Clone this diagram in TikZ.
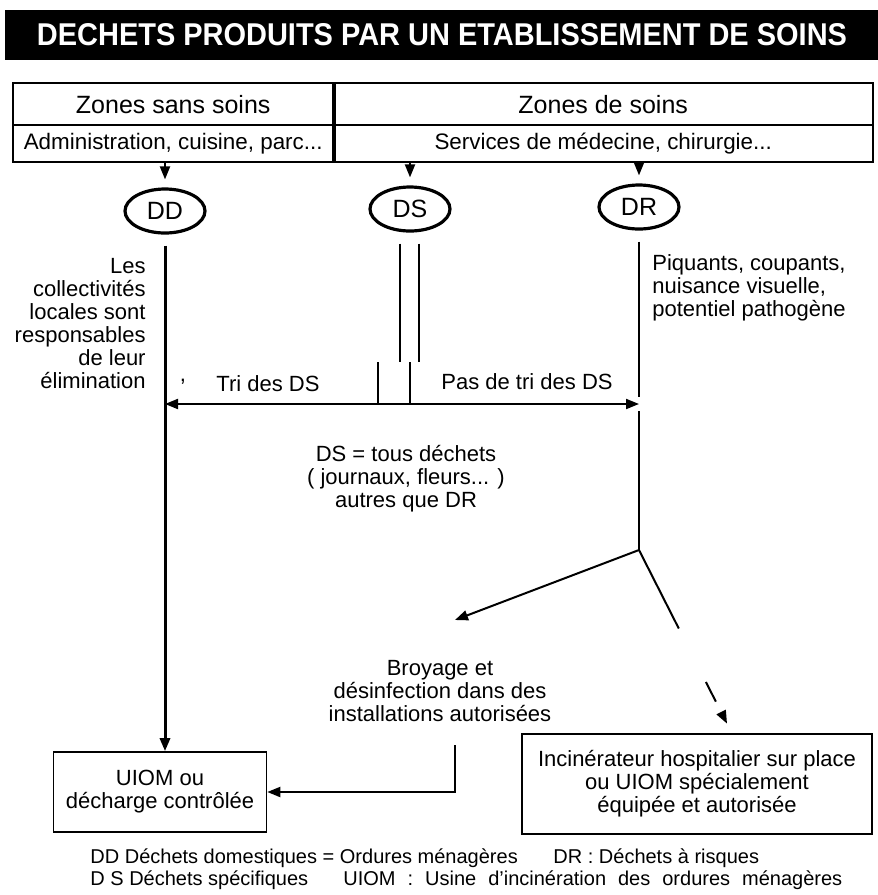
\documentclass[tikz,border=0pt]{standalone}
\usepackage{fontspec}
\setmainfont{Liberation Sans}
\usepackage{graphicx}
\usetikzlibrary{arrows.meta,shapes.geometric}

\begin{document}
\begin{tikzpicture}[
    x=0.5pt, y=-0.5pt,
    >={Triangle[length=6.5pt, width=5pt]},
    line/.style   = {line width=1pt},
    heavy/.style  = {line width=1.5pt},
    cell/.style   = {draw, line width=1.2pt, inner sep=0pt, anchor=north west},
    waste/.style  = {ellipse, draw, line width=1.6pt, inner sep=0pt,
                     minimum width=40pt, minimum height=22pt,
                     font=\fontsize{12.5}{14}\selectfont},
    txt/.style    = {inner sep=0pt, font=\fontsize{11}{11.5}\selectfont},
    outbox/.style = {draw, inner sep=0pt, align=center,
                     font=\fontsize{11}{11.5}\selectfont},
    legend/.style = {inner sep=0pt, anchor=west, font=\fontsize{10}{11}\selectfont}
]
\useasboundingbox (0,0) rectangle (878,895);

% title band
\fill (5,10) rectangle (878,60);
\node[text=white, inner sep=0pt] (title) at (442,35)
    {\resizebox{405pt}{11pt}{\bfseries DECHETS PRODUITS PAR UN ETABLISSEMENT DE SOINS}};

% table of zones
\node[cell, minimum width=160pt, minimum height=21pt, font=\fontsize{12.5}{14}\selectfont]
    (zss) at (12,82) {Zones sans soins};
\node[cell, minimum width=270pt, minimum height=21pt, font=\fontsize{12.5}{14}\selectfont]
    (zs) at (332,82) {Zones de soins};
\node[cell, minimum width=160pt, minimum height=18.5pt, font=\fontsize{11.2}{13}\selectfont]
    (adm) at (12,124) {Administration, cuisine, parc...};
\node[cell, minimum width=270pt, minimum height=18.5pt, font=\fontsize{11.2}{13}\selectfont]
    (serv) at (332,124) {Services de médecine, chirurgie...};
\draw[line] ([xshift=1.5pt]zs.north west) -- ([xshift=1.5pt]serv.south west);

% waste classes
\foreach \n/\x/\y in {DD/165/211, DS/410/209, DR/639/207}
    \node[waste] (\n) at (\x,\y) {\n};
\foreach \n in {DD, DS, DR}
    \draw[->, line] (\n |- adm.south) -- ([yshift=4pt]\n.north);

% helper levels
\coordinate (sep) at (0,362);
\coordinate (mid) at (0,404);
\coordinate (B)   at (639,550);
\coordinate (drop) at (455,745);

% outlets
\node[outbox, line width=0.8pt, minimum width=106.5pt, minimum height=40pt]
    (uiom) at (160,792) {UIOM ou\\décharge contrôlée};
\node[outbox, line width=1.4pt, minimum width=175pt, minimum height=50pt]
    (inc) at (697,784) {Incinérateur hospitalier sur place\\ou UIOM spécialement\\équipée et autorisée};

% DD branch
\draw[->, heavy] ([yshift=-5.5pt]DD.south) -- (DD.south |- uiom.north);
\node[txt, align=right, anchor=north east] (resp) at (146,258)
    {Les\\collectivités\\locales sont\\responsables\\de leur\\élimination};

% DS branch
\foreach \dx in {-5pt, 4.5pt}
    \draw[line] ([xshift=\dx, yshift=-5.5pt]DS.south) -- ([xshift=\dx]DS.south |- sep);
\foreach \sx in {378, 410}
    \draw[line] (\sx,0 |- sep) -- (\sx,0 |- mid);
\draw[<->, line] (DD.south |- mid) -- (DR.south |- mid);
\node[txt] (comma) at (183,382) {,};
\node[txt] (tri) at (268,384) {Tri des DS};
\node[txt] (pastri) at (527,382) {Pas de tri des DS};
\node[txt, align=center] (dsdef) at (406,479)
    {DS = tous déchets\\( journaux, fleurs... )\\autres que DR};

% DR branch
\draw[line] ([yshift=-5.5pt]DR.south) -- ([yshift=3.5pt]DR.south |- mid);
\draw[line] ([yshift=-3.5pt]DR.south |- mid) -- (B);
\node[txt, align=left, anchor=north west] (piq) at (652,254)
    {Piquants, coupants,\\nuisance visuelle,\\potentiel pathogène};
\node[txt, align=center] (broy) at (440,691)
    {Broyage et\\désinfection dans des\\installations autorisées};
\draw[->, line] (B) -- (drop |- 0,620);
\draw[->, line, dash pattern=on 44pt off 30pt on 11pt off 20pt]
    (B) -- ([xshift=15pt, yshift=4.5pt]inc.north);
\draw[->, line] (drop) |- (uiom.east);

% legend
\node[legend] (l1) at (90,858) {DD Déchets domestiques = Ordures ménagères};
\node[legend] (l2) at (553,858) {DR : Déchets à risques};
\node[legend] (l3) at (90,880) {D S Déchets spécifiques};
\node[legend] (l4) at (343,880) {\spaceskip=6pt UIOM : Usine d'incinération des ordures ménagères};

\end{tikzpicture}
\end{document}
